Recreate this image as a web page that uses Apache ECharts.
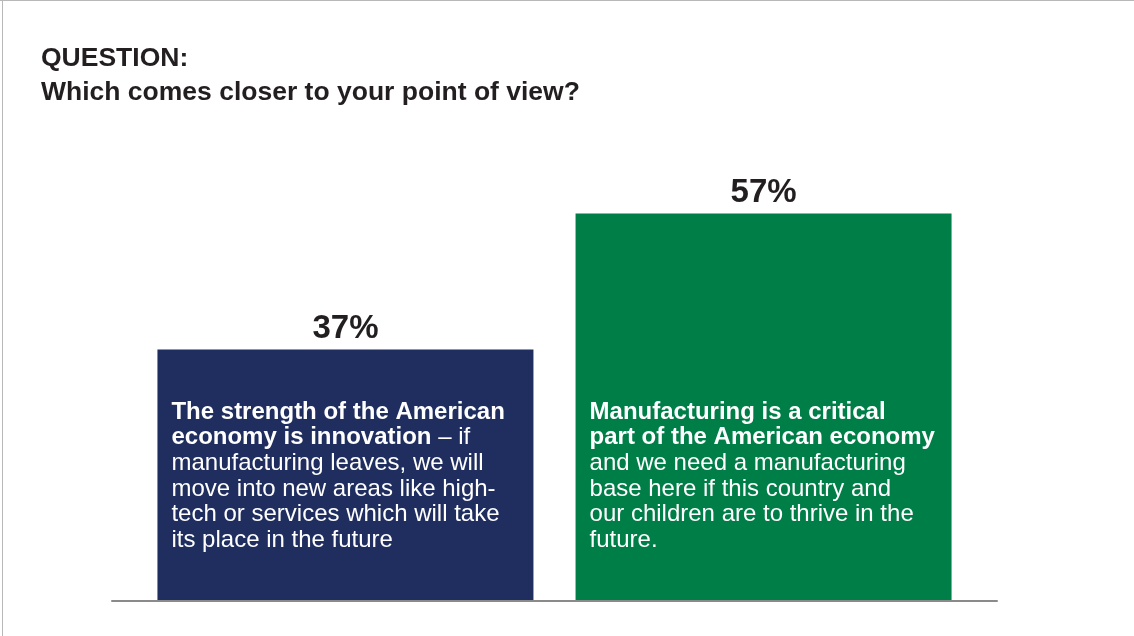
<!DOCTYPE html>
<html>
<head>
<meta charset="utf-8">
<script src="https://cdn.jsdelivr.net/npm/echarts@6/dist/echarts.min.js"></script>
<style>
  html, body { margin: 0; padding: 0; background: #ffffff; }
  #chart { position: absolute; left: 0; top: 0; width: 1134px; height: 636px; }
  #btop { position: absolute; left: 0; top: 0; width: 1134px; height: 1px; background: #b8b8b8; pointer-events: none; }
  #bleft { position: absolute; left: 2px; top: 0; width: 1px; height: 636px; background: #b8b8b8; pointer-events: none; }
</style>
</head>
<body>
<div id="chart"></div>
<div id="btop"></div>
<div id="bleft"></div>
<script>
// ---- data ----
const categories = ['Innovation', 'Manufacturing'];
const values = [37, 57];
const boldLines = [
  ['The strength of the American', 'economy is innovation'],
  ['Manufacturing is a critical', 'part of the American economy']
];
const regularLines = [
  [' – if', 'manufacturing leaves, we will', 'move into new areas like high-', 'tech or services which will take', 'its place in the future'],
  ['', 'and we need a manufacturing', 'base here if this country and', 'our children are to thrive in the', 'future.']
];
const titleLines = ['QUESTION:', 'Which comes closer to your point of view?'];

// ---- styles ----
const barColors = ['#1f2d5f', '#007e47'];
const FONT = "'Liberation Sans', Arial, Helvetica, sans-serif";

function bodyText(i) {
  const b = boldLines[i], r = regularLines[i];
  const parts = [];
  parts.push('{b|' + b[0] + '}');
  parts.push('{b|' + b[1] + '}' + (r[0] ? '{r|' + r[0] + '}' : ''));
  for (let k = 1; k < r.length; k++) parts.push('{r|' + r[k] + '}');
  return parts.join('\n');
}

const chart = echarts.init(document.getElementById('chart'), null, { renderer: 'canvas' });

const colouredSeries = categories.map((c, i) => ({
  name: c,
  type: 'bar',
  xAxisIndex: 0,
  data: [values[i]],
  barWidth: 376,
  barGap: '11.2%',
  itemStyle: { color: barColors[i] },
  silent: true,
  z: 1,
  label: {
    show: true,
    position: 'insideBottomLeft',
    distance: 14,
    offset: [0, -34],
    formatter: () => bodyText(i),
    rich: {
      b: { fontFamily: FONT, fontWeight: 'bold', fontSize: 24, lineHeight: 25.6, color: '#ffffff' },
      r: { fontFamily: FONT, fontWeight: 'normal', fontSize: 24, lineHeight: 25.6, color: '#ffffff' }
    }
  }
}));

const labelSeries = categories.map((c, i) => ({
  name: c + ' value',
  type: 'bar',
  xAxisIndex: 1,
  data: [values[i]],
  barWidth: 376,
  barGap: '11.2%',
  itemStyle: { color: 'rgba(0,0,0,0)' },
  silent: true,
  z: 2,
  label: {
    show: true,
    position: 'top',
    distance: 4,
    formatter: '{c}%',
    fontFamily: FONT,
    fontWeight: 'bold',
    fontSize: 33,
    color: '#231f20'
  }
}));

const option = {
  animation: false,
  backgroundColor: '#ffffff',
  title: {
    text: titleLines.join('\n'),
    left: 41,
    top: 42,
    padding: 0,
    textStyle: {
      fontFamily: FONT,
      fontWeight: 'bold',
      fontSize: 26.5,
      lineHeight: 34,
      color: '#231f20'
    }
  },
  grid: { left: 112, right: 137, top: 193, bottom: 35, containLabel: false },
  xAxis: [
    {
      type: 'category',
      data: [''],
      axisLine: { show: true, lineStyle: { color: '#8a8a8a', width: 2 } },
      axisTick: { show: false },
      axisLabel: { show: false },
      z: 5
    },
    {
      type: 'category',
      data: [''],
      show: false
    }
  ],
  yAxis: {
    type: 'value',
    min: 0,
    max: 60,
    show: false,
    splitLine: { show: false }
  },
  series: colouredSeries.concat(labelSeries)
};

chart.setOption(option);
</script>
</body>
</html>
